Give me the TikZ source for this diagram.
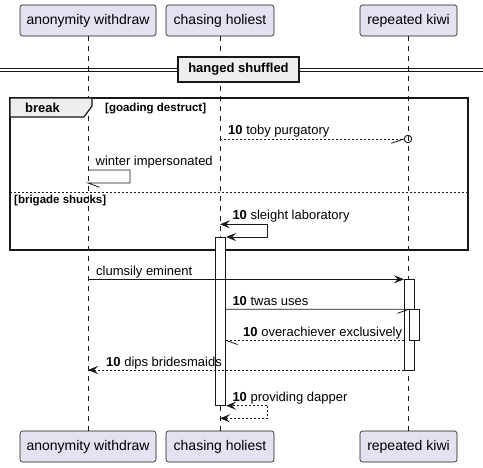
\documentclass[tikz,border=0pt]{standalone}
\usepackage{fontspec}
\setmainfont{Liberation Sans}
\usetikzlibrary{arrows.meta}
\definecolor{pbox}{HTML}{E2E2F0}
\definecolor{lnc}{HTML}{181818}
\definecolor{grp}{HTML}{EEEEEE}
\begin{document}
\begin{tikzpicture}[x=1pt,y=-1pt,
  part/.style={draw=lnc,fill=pbox,rounded corners=2.5pt,line width=0.6pt,inner sep=0pt,minimum height=31pt,font=\fontsize{14}{16}\selectfont},
  life/.style={draw=lnc,line width=0.5pt,dash pattern=on 5pt off 5pt},
  actbox/.style={draw=lnc,fill=white,line width=0.8pt},
  msg/.style={draw=lnc,line width=0.8pt},
  dmsg/.style={draw=lnc,line width=0.8pt,dash pattern=on 2pt off 2pt},
  tip/.style={-{Stealth[length=10pt,width=8pt,inset=4pt]}},
  lbl/.style={anchor=base west,inner sep=0pt,font=\fontsize{13}{15}\selectfont},
  glbl/.style={anchor=base west,inner sep=0pt,font=\fontsize{11.5}{13}\selectfont\bfseries},
]
\useasboundingbox (0,0) rectangle (483,467);
\fill[white] (0,0) rectangle (483,467);
% participants
\node[part,minimum width=136pt] (tA) at (88,20.5) {anonymity withdraw};
\node[part,minimum width=108pt] (tC) at (220,20.5) {chasing holiest};
\node[part,minimum width=97pt] (tR) at (408.5,20.5) {repeated kiwi};
\node[part,minimum width=136pt] (bA) at (88,446.5) {anonymity withdraw};
\node[part,minimum width=108pt] (bC) at (220,446.5) {chasing holiest};
\node[part,minimum width=97pt] (bR) at (408.5,446.5) {repeated kiwi};
\coordinate (pA) at (88,0);
\coordinate (pC) at (220,0);
\coordinate (pR) at (408,0);
\draw[life] (tA.south -| pA) -- (bA.north -| pA);
\draw[life] (tC.south -| pC) -- (bC.north -| pC);
\draw[life] (tR.south -| pR) -- (bR.north -| pR);
% divider
\draw[lnc,line width=0.8pt] (0,68.5) -- (483,68.5);
\draw[lnc,line width=0.8pt] (0,71.5) -- (483,71.5);
\node[draw=lnc,fill=grp,line width=1.6pt,minimum width=121pt,minimum height=25pt,inner sep=0pt,font=\fontsize{13}{15}\selectfont\bfseries] (div) at (238.5,69.5) {hanged shuffled};
% group
\draw[lnc,line width=1.5pt] (10,98) rectangle (468,250);
\draw[lnc,line width=1.2pt,fill=grp] (10,98) -- (92,98) -- (92,106) -- (84,117) -- (10,117) -- cycle;
\node[anchor=base west,inner sep=0pt,font=\fontsize{13}{15}\selectfont\bfseries] (gb) at (25,112) {break};
\node[glbl] (gc1) at (105,111.5) {[goading destruct]};
\draw[lnc,line width=0.6pt,dash pattern=on 2pt off 2pt] (10,192) -- (468,192);
\node[glbl] (gc2) at (14,203) {[brigade shucks]};
% activations
\node[actbox,minimum width=10.4pt,minimum height=168.4pt,inner sep=0pt] (aC) at (220.5,321.5) {};
\node[actbox,minimum width=10pt,minimum height=90.7pt,inner sep=0pt] (aR1) at (409.3,324.65) {};
\node[actbox,minimum width=10pt,minimum height=31pt,inner sep=0pt] (aR2) at (414.3,324.8) {};
% 1 toby purgatory
\node[draw=lnc,line width=0.9pt,circle,minimum size=7.5pt,inner sep=0pt] (circ) at (408,139) {};
\draw[dmsg] (pC |- 0,139) -- (circ.west);
\draw[msg] (circ.west) -- ++(-12.5,4.3);
\node[lbl] (l1) at (228,134) {\textbf{10} toby purgatory};
% 2 winter impersonated
\draw[msg] (pA |- 0,170) -- (130,170) -- (130,183) -- (pA |- 0,183) -- ++(11.5,4.3);
\node[lbl] (l2) at (95.5,165) {winter impersonated};
% 3 sleight laboratory
\draw[msg,tip] (267,224.3) -- (pC |- 0,224.3);
\draw[msg,tip] (pC |- 0,224.3) ++(47,0) -- (267,237) -- (aC.east |- 0,237);
\node[lbl] (l3) at (232.3,219.3) {\textbf{10} sleight laboratory};
% 4 clumsily eminent
\draw[msg,tip] (pA |- 0,279.3) -- (aR1.west |- 0,279.3);
\node[lbl] (l4) at (96,275) {clumsily eminent};
% 5 twas uses
\draw[msg] (aC.east |- 0,309.3) -- (aR2.west |- 0,309.3) -- ++(-11.5,4);
\node[lbl] (l5) at (232.3,305) {\textbf{10} twas uses};
% 6 overachiever exclusively
\draw[dmsg] (aR1.west |- 0,340.3) -- (aC.east |- 0,340.3);
\draw[msg] (aC.east |- 0,340.3) -- ++(11.5,4.3);
\node[lbl] (l6) at (243,336) {\textbf{10} overachiever exclusively};
% 7 dips bridesmaids
\draw[dmsg,tip] (aR1.west |- 0,370) -- (pA |- 0,370);
\node[lbl] (l7) at (106,366) {\textbf{10} dips bridesmaids};
% 8 providing dapper
\draw[dmsg,tip] (267,405.7) -- (aC.east |- 0,405.7);
\draw[dmsg,tip] (267,405.7) -- (267,418.3) -- (pC |- 0,418.3);
\node[lbl] (l8) at (232.3,401.3) {\textbf{10} providing dapper};
\end{tikzpicture}
\end{document}
